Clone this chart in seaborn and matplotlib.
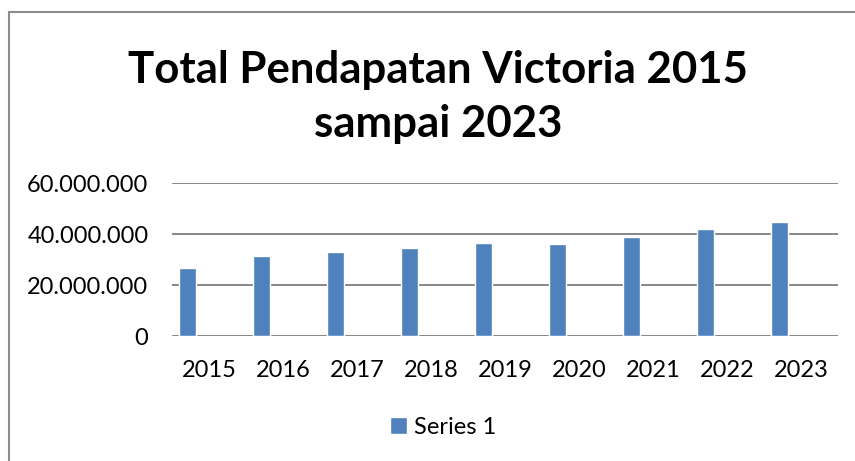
import matplotlib
matplotlib.use("Agg")
import matplotlib.pyplot as plt
import seaborn as sns
import pandas as pd
from matplotlib.patches import Rectangle
from matplotlib.ticker import FuncFormatter

years = ["2015", "2016", "2017", "2018", "2019", "2020", "2021", "2022", "2023"]
values = [26850000, 31400000, 33000000, 34600000, 36400000, 36100000, 38900000, 42200000, 44700000]
series_name = "Series 1"
title_lines = ["Total Pendapatan Victoria 2015", "sampai 2023"]

df = pd.DataFrame({"Tahun": years, "Pendapatan": values, "Series": series_name})

sns.set_theme(style="white")
plt.rcParams['font.family'] = ['Lato', 'DejaVu Sans']
plt.rcParams['text.color'] = 'black'

W, H = 855, 461
fig = plt.figure(figsize=(W / 100, H / 100), dpi=100)
ax = fig.add_axes([172 / W, 1 - 336 / H, (838 - 172) / W, (336 - 183.3) / H])

sns.barplot(data=df, x="Tahun", y="Pendapatan", hue="Series", palette=["#4F81BD"],
            width=0.23, ax=ax, saturation=1, legend=True)

# Excel-style placement: bar sits left of the category centre
for p in ax.patches:
    p.set_x(p.get_x() - 0.29)

ax.set_ylim(0, 60000000)
ax.set_yticks([0, 20000000, 40000000, 60000000])
ax.yaxis.set_major_formatter(FuncFormatter(lambda v, p: "0" if v == 0 else f"{int(v):,}".replace(",", ".")))
ax.grid(axis="y", color="#868686", linewidth=1.4)
ax.set_axisbelow(True)
for s in ax.spines.values():
    s.set_visible(False)
ax.set_xlabel("")
ax.set_ylabel("")
ax.tick_params(axis="y", labelsize=17, pad=17, length=0, colors="black")
ax.tick_params(axis="x", labelsize=17, pad=17, length=0, colors="black")
ax.set_xlim(-0.5, len(years) - 0.5)

leg = ax.legend(loc="center", bbox_to_anchor=(443 / W, 1 - 427 / H), bbox_transform=fig.transFigure,
                frameon=False, fontsize=17, handlelength=0.7, handleheight=0.7, handletextpad=0.3)
for t in leg.get_texts():
    t.set_color("black")

fig.text(438 / W, 1 - 70 / H, title_lines[0], ha="center", va="center", fontsize=31.5,
         fontweight="bold", color="black")
fig.text(438 / W, 1 - 124 / H, title_lines[1], ha="center", va="center", fontsize=31.5,
         fontweight="bold", color="black")

fig.patches.append(Rectangle((8.5 / W, -0.1), 1.2, 1 - 12.5 / H + 0.1, transform=fig.transFigure,
                             fill=False, edgecolor="#8c8c8c", linewidth=1.5))

fig.savefig("out.png", dpi=100)
